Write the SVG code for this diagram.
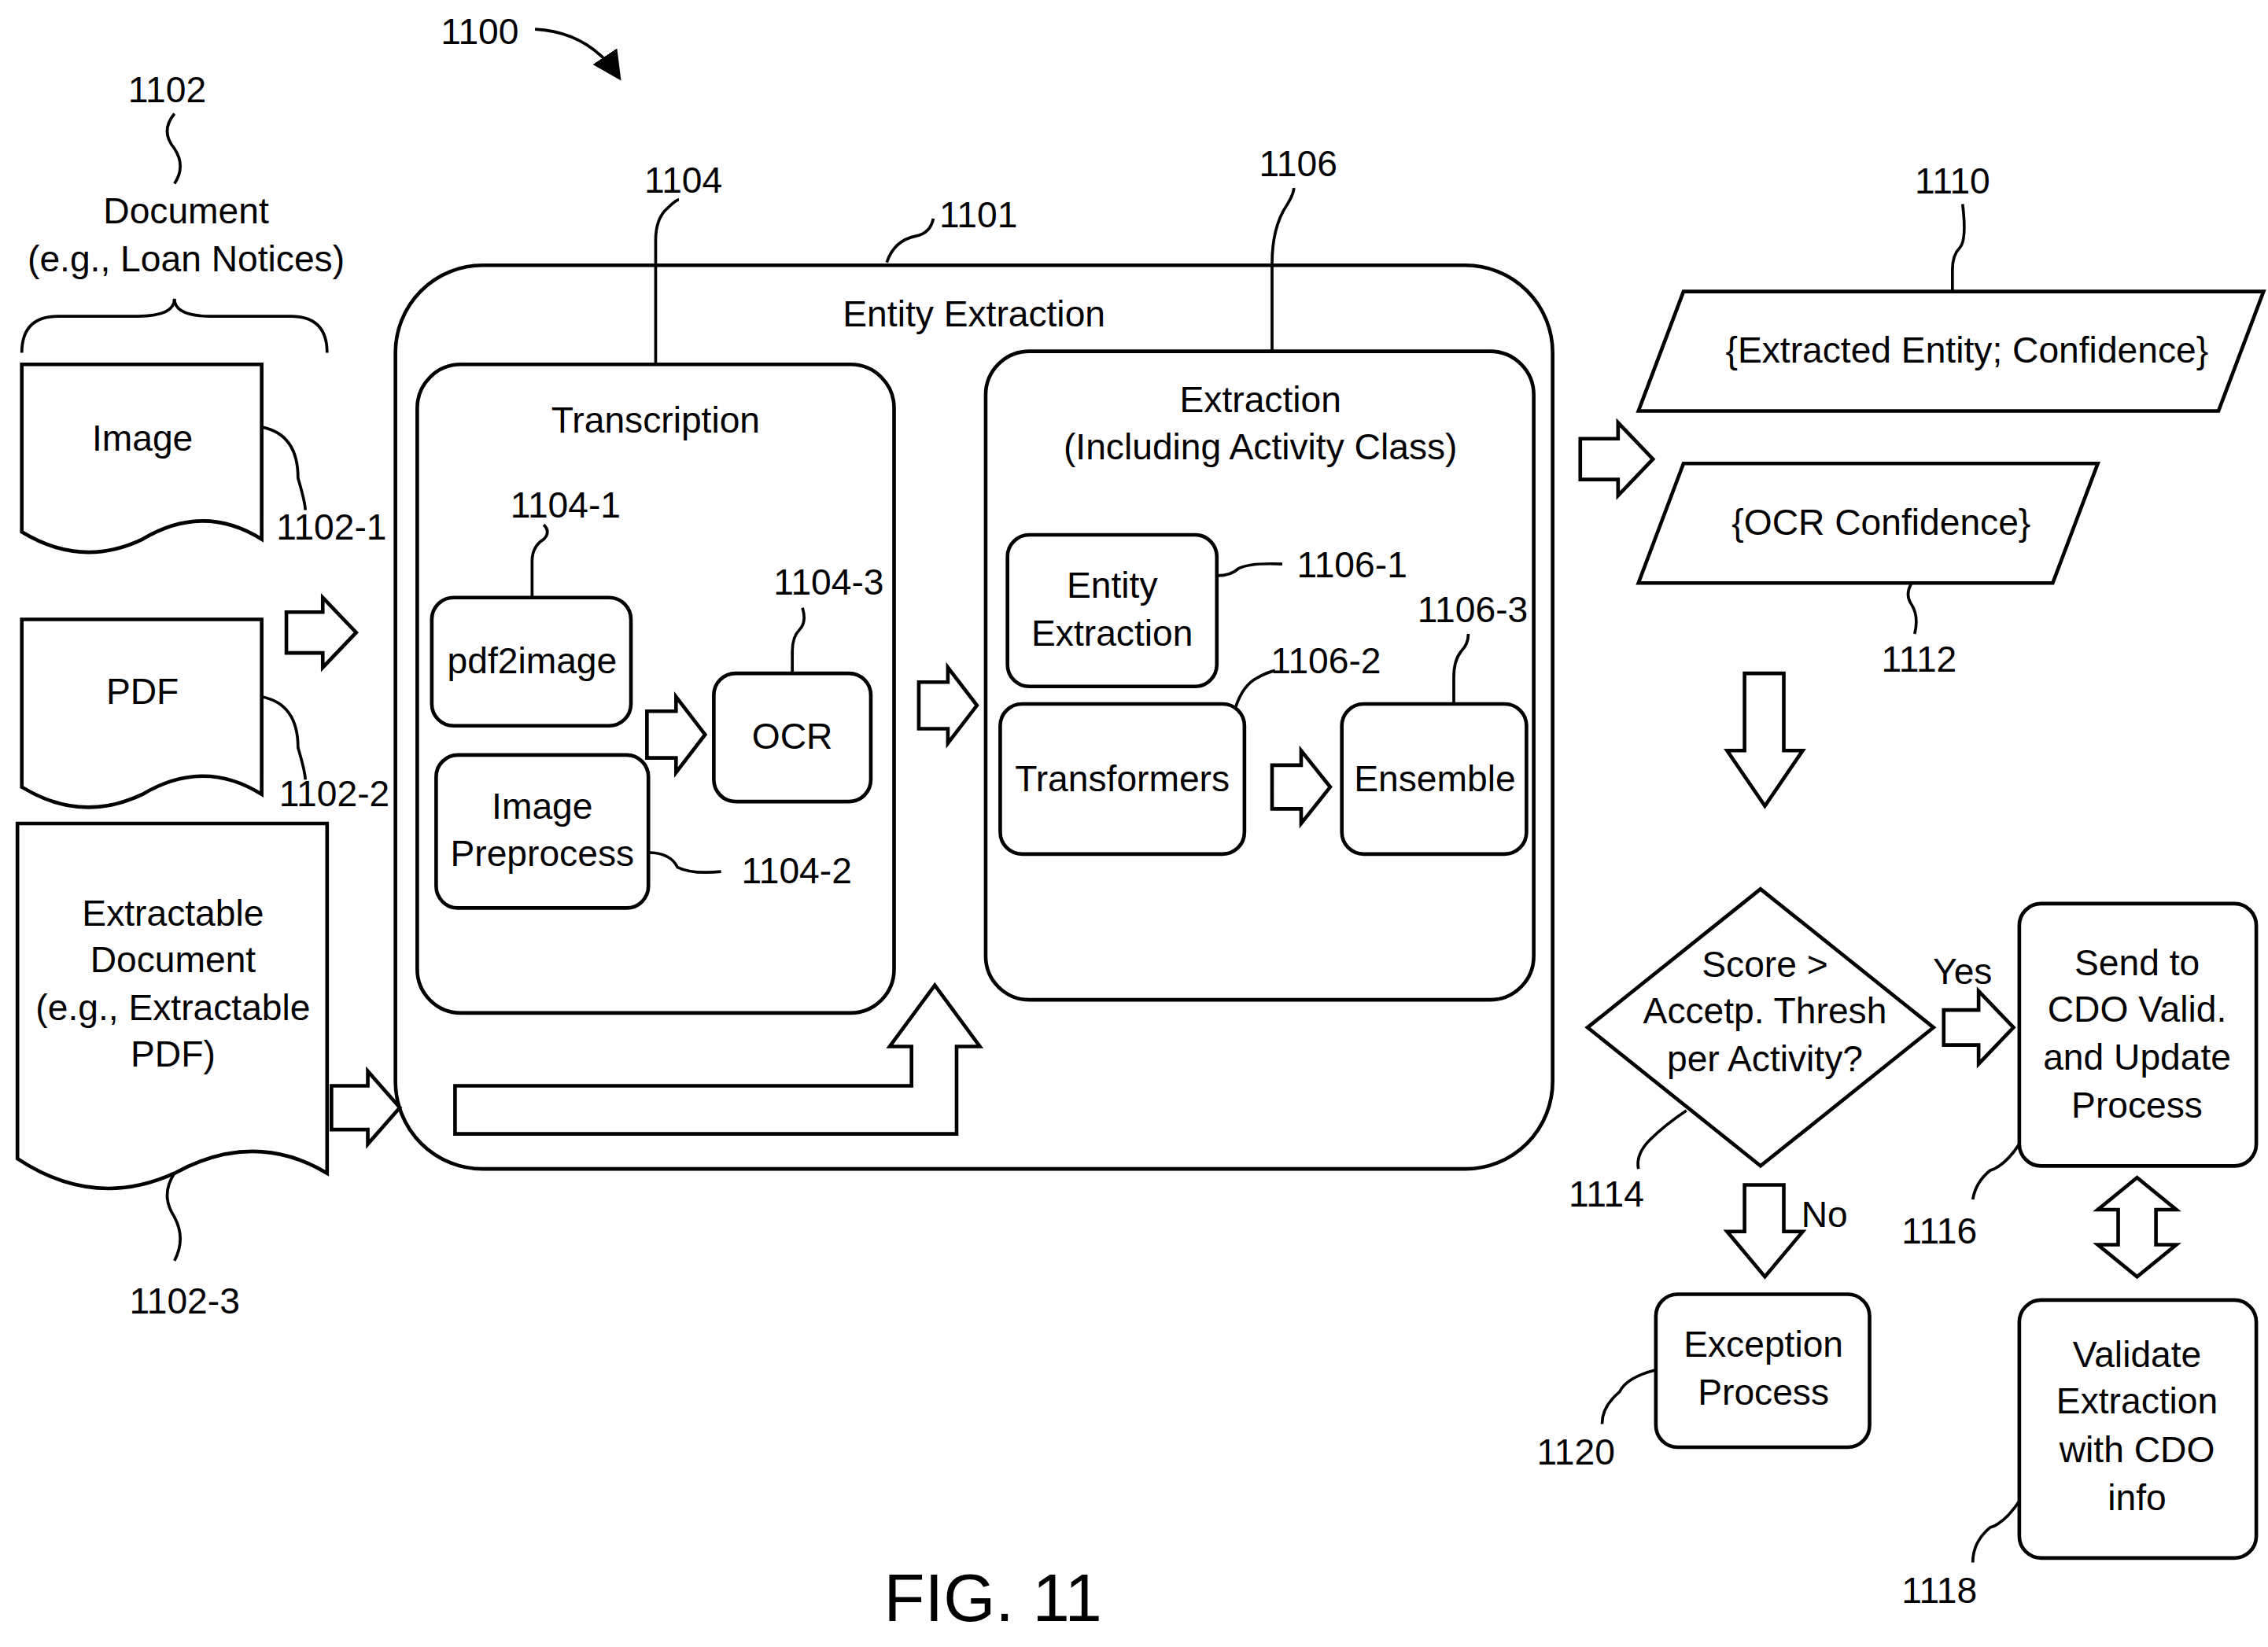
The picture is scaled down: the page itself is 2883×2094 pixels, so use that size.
<svg xmlns="http://www.w3.org/2000/svg" width="2883" height="2094" viewBox="0 0 2883 2094">
<style>
.b{fill:#fff;stroke:#000;stroke-width:2.5}
.l{fill:none;stroke:#000;stroke-width:2}
text{font-family:"Liberation Sans",Arial,sans-serif;font-size:25px;text-anchor:middle;fill:#000}
</style>
<defs><marker id="ah" markerWidth="10" markerHeight="10" refX="8" refY="5" orient="auto"><path d="M0,0 L10,5 L0,10 Z"/></marker></defs>
<rect width="2883" height="2094" fill="#fff"/>
<g transform="scale(1.848,1.853)">
<text x="330" y="30">1100</text>
<text x="115" y="70">1102</text>
<text x="128" y="153">Document</text>
<text x="128" y="186">(e.g., Loan Notices)</text>
<g id="doc-image"><path class="b" d="M15,250 H180 V370 q-40,-25 -82,0 q-42,20 -83,-5 Z"/><text x="98" y="309">Image</text><text x="228" y="370">1102-1</text></g>
<g id="doc-pdf"><path class="b" d="M15,425 H180 V545 q-40,-25 -82,0 q-42,20 -83,-5 Z"/><text x="98" y="483">PDF</text><text x="230" y="553">1102-2</text></g>
<g id="doc-extractable"><path class="b" d="M12,565 H225 V805 q-50,-30 -105,0 q-55,25 -108,-10 Z"/><text x="119" y="635">Extractable</text><text x="119" y="667">Document</text><text x="119" y="700">(e.g., Extractable</text><text x="119" y="732">PDF)</text><text x="127" y="901">1102-3</text></g>
<g id="entity-extraction"><rect x="272" y="182" width="796" height="620" rx="60" style="fill:none;stroke:#000;stroke-width:2.5"/><text x="670" y="224">Entity Extraction</text><text x="673" y="156">1101</text></g>
<g id="transcription"><rect class="b" x="287" y="250" width="328" height="445" rx="30"/><text x="451" y="297">Transcription</text><text x="470" y="132">1104</text></g>
<g id="pdf2image"><rect class="b" x="297" y="410" width="137" height="88" rx="15"/><text x="366" y="462">pdf2image</text><text x="389" y="355">1104-1</text></g>
<g id="preprocess"><rect class="b" x="300" y="518" width="146" height="105" rx="15"/><text x="373" y="562">Image</text><text x="373" y="594">Preprocess</text><text x="548" y="606">1104-2</text></g>
<g id="ocr"><rect class="b" x="491" y="462" width="108" height="88" rx="15"/><text x="545" y="514">OCR</text><text x="570" y="408">1104-3</text></g>
<g id="extraction"><rect class="b" x="678" y="241" width="377" height="445" rx="30"/><text x="867" y="283">Extraction</text><text x="867" y="315">(Including Activity Class)</text><text x="893" y="121">1106</text></g>
<g id="entity-box"><rect class="b" x="693" y="367" width="144" height="104" rx="15"/><text x="765" y="410">Entity</text><text x="765" y="443">Extraction</text><text x="930" y="396">1106-1</text></g>
<g id="transformers"><rect class="b" x="688" y="483" width="168" height="103" rx="15"/><text x="772" y="543">Transformers</text><text x="912" y="462">1106-2</text></g>
<g id="ensemble"><rect class="b" x="923" y="483" width="127" height="103" rx="15"/><text x="987" y="543">Ensemble</text><text x="1013" y="427">1106-3</text></g>
<g id="out-entity"><polygon class="b" points="1127,282 1158,200 1557,200 1526,282"/><text x="1353" y="249">{Extracted Entity; Confidence}</text><text x="1343" y="133">1110</text></g>
<g id="out-ocr"><polygon class="b" points="1127,400 1158,318 1443,318 1412,400"/><text x="1294" y="367">{OCR Confidence}</text><text x="1320" y="461">1112</text></g>
<g id="decision"><polygon class="b" points="1211,610 1330,705 1211,800 1092,705"/><text x="1214" y="670">Score &gt;</text><text x="1214" y="702">Accetp. Thresh</text><text x="1214" y="735">per Activity?</text><text x="1105" y="828">1114</text><text x="1350" y="675">Yes</text><text x="1255" y="842">No</text></g>
<g id="send"><rect class="b" x="1389" y="620" width="163" height="180" rx="15"/><text x="1470" y="669">Send to</text><text x="1470" y="701">CDO Valid.</text><text x="1470" y="734">and Update</text><text x="1470" y="767">Process</text><text x="1334" y="853">1116</text></g>
<g id="exception"><rect class="b" x="1139" y="888" width="147" height="105" rx="15"/><text x="1213" y="931">Exception</text><text x="1213" y="964">Process</text><text x="1084" y="1005">1120</text></g>
<g id="validate"><rect class="b" x="1389" y="892" width="163" height="177" rx="15"/><text x="1470" y="938">Validate</text><text x="1470" y="970">Extraction</text><text x="1470" y="1003">with CDO</text><text x="1470" y="1036">info</text><text x="1334" y="1100">1118</text></g>
<text x="683" y="1112" style="font-size:46px">FIG. 11</text>
<g id="connectors">
<path class="l" d="M368,20 Q405,22 425,52" marker-end="url(#ah)"/>
<path class="l" d="M120,78 q-10,12 0,24 q8,12 0,24"/>
<path class="l" d="M15,242 q0,-25 25,-25 h55 q25,0 25,-12 q0,12 25,12 h55 q25,0 25,25"/>
<path class="l" d="M180,293 q25,5 25,35 q5,17 5,22"/>
<path class="l" d="M180,478 q25,5 25,35 q5,17 5,22"/>
<path class="l" d="M120,805 q-10,15 0,30 q8,15 0,30"/>
<path class="l" d="M610,180 q5,-15 20,-18 q10,-2 12,-12"/>
<path class="l" d="M451,250 v-85 q0,-15 8,-22 q6,-6 8,-6"/>
<path class="l" d="M366,410 v-25 q0,-10 8,-15 q5,-5 0,-10"/>
<path class="l" d="M446,585 q15,0 20,10 q10,5 30,3"/>
<path class="l" d="M545,462 v-15 q0,-10 5,-15 q5,-5 2,-15"/>
<path class="l" d="M875,241 v-60 q0,-25 10,-40 q5,-8 5,-12"/>
<path class="l" d="M837,395 q10,0 15,-5 q8,-4 30,-3"/>
<path class="l" d="M850,485 q5,-15 15,-20 q5,-3 12,-5"/>
<path class="l" d="M1000,483 v-18 q0,-12 5,-18 q5,-5 5,-12"/>
<path class="l" d="M1343,200 v-15 q0,-10 5,-15 q5,-5 2,-30"/>
<path class="l" d="M1315,400 q-5,8 0,15 q5,8 2,20"/>
<path class="l" d="M1160,762 q-15,10 -25,20 q-10,10 -8,20"/>
<path class="l" d="M1389,785 q-10,15 -20,18 q-10,8 -12,20"/>
<path class="l" d="M1139,940 q-20,5 -25,15 q-12,10 -12,22"/>
<path class="l" d="M1389,1030 q-10,15 -20,18 q-12,10 -12,24"/>
<g class="b">
<polygon points="197,420 222,420 222,410 245,434 222,458 222,448 197,448"/>
<polygon points="228,745 253,745 253,735 275,760 253,785 253,775 228,775"/>
<polygon points="445,488 465,488 465,478 485,504 465,530 465,520 445,520"/>
<polygon points="632,468 652,468 652,458 672,484 652,510 652,500 632,500"/>
<polygon points="875,525 895,525 895,515 915,540 895,565 895,555 875,555"/>
<polygon points="1087,301 1113,301 1113,290 1137,315 1113,340 1113,329 1087,329"/>
<polygon points="313,745 627,745 627,718 612,718 643,676 674,718 658,718 658,778 313,778"/>
<polygon points="1200,462 1227,462 1227,515 1240,515 1214,553 1188,515 1200,515"/>
<polygon points="1337,693 1361,693 1361,680 1385,705 1361,730 1361,717 1337,717"/>
<polygon points="1200,813 1227,813 1227,845 1240,845 1214,876 1188,845 1200,845"/>
<polygon points="1457,830 1443,830 1470,808 1497,830 1483,830 1483,854 1497,854 1470,876 1443,854 1457,854"/>
</g>
</g>
</g>
</svg>
